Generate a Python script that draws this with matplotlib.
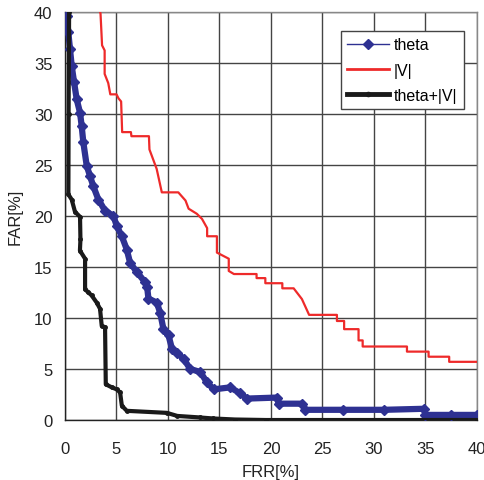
import matplotlib
matplotlib.use("Agg")
import matplotlib.pyplot as plt
from matplotlib.lines import Line2D

plt.rcParams['font.family'] = ['Liberation Sans', 'DejaVu Sans']

# |V| curve (FRR %, FAR %)
v_frr = [3.3, 3.45, 3.6, 3.85, 3.85, 4.2, 4.4, 5.0, 5.2, 5.45, 5.55, 6.4, 6.45, 8.15,
         8.2, 8.9, 9.4, 11.0, 11.7, 12.0, 12.8, 13.3, 13.8, 13.8, 14.75, 14.75, 15.9,
         15.9, 16.4, 18.6, 18.6, 19.45, 19.45, 21.1, 21.1, 22.2, 23.0, 23.7, 26.4,
         26.4, 27.1, 27.1, 28.5, 28.5, 28.9, 28.9, 33.2, 33.2, 35.3, 35.3, 37.3,
         37.3, 40.0]
v_far = [40.5, 39.8, 36.7, 36.2, 33.9, 33.0, 31.9, 31.9, 31.5, 31.2, 28.2, 28.2, 27.8,
         27.8, 26.5, 24.6, 22.3, 22.3, 21.5, 20.7, 20.2, 19.7, 18.8, 18.0, 18.0, 16.4,
         15.8, 14.6, 14.3, 14.3, 13.9, 13.9, 13.4, 13.4, 12.9, 12.9, 11.85, 10.3,
         10.3, 9.7, 9.7, 8.9, 8.9, 7.8, 7.8, 7.2, 7.2, 6.7, 6.7, 6.2, 6.2, 5.7, 5.7]

# theta curve
t_frr = [0.0, 0.17, 0.32, 0.49, 0.65, 0.88, 1.14, 1.46, 1.62, 1.78, 2.11, 2.43, 2.75,
         3.24, 3.89, 4.70, 5.03, 5.52, 6.00, 6.32, 6.97, 7.78, 7.98, 8.10, 8.92, 9.24,
         9.56, 10.05, 10.38, 10.87, 11.51, 12.16, 13.13, 13.78, 14.43, 16.05, 17.02,
         17.67, 20.59, 20.75, 23.0, 23.35, 27.0, 31.0, 34.85, 35.0, 37.5, 40.0]
t_far = [40.0, 39.6, 38.0, 36.3, 34.7, 33.1, 31.4, 30.1, 28.8, 27.2, 24.9, 23.9, 22.9,
         21.6, 20.5, 20.0, 19.0, 18.0, 16.7, 15.4, 14.5, 13.5, 13.0, 11.9, 11.5, 10.5,
         8.9, 8.3, 7.0, 6.6, 6.0, 5.0, 4.7, 3.7, 3.0, 3.2, 2.6, 2.1, 2.2, 1.6, 1.6,
         1.0, 1.0, 1.0, 1.1, 0.5, 0.5, 0.5]

# theta+|V| curve
c_frr = [0.4, 0.35, 0.33, 0.65, 0.97, 1.46, 1.5, 1.45, 1.95, 1.95, 2.27, 2.59, 3.08,
         3.40, 3.57, 3.89, 3.96, 4.54, 5.03, 5.35, 5.52, 6.0, 9.89, 10.9, 13.1, 14.4,
         16.5, 19.5, 40.0]
c_far = [40.0, 30.0, 22.1, 21.6, 20.4, 19.9, 17.7, 16.6, 15.8, 12.8, 12.5, 12.2, 11.5,
         10.9, 9.2, 9.1, 3.5, 3.2, 3.0, 2.7, 1.4, 0.9, 0.7, 0.4, 0.25, 0.15, 0.05,
         0.0, 0.0]

labels = ["theta", "|V|", "theta+|V|"]
ticks = [0, 5, 10, 15, 20, 25, 30, 35, 40]

BLUE = "#2e3192"
RED = "#ee2a2a"
BLACK = "#1a1a1a"

fig = plt.figure(figsize=(4.85, 4.81), dpi=100)
ax = fig.add_axes([0.134, 0.1247, 0.8495, 0.849])

ax.set_xlim(0, 40)
ax.set_ylim(0, 40)
ax.set_xticks(ticks)
ax.set_yticks(ticks)
ax.grid(True, color="#444444", linewidth=1.0)
ax.set_axisbelow(True)
for s in ["top", "right"]:
    ax.spines[s].set_color("#888888")
for s in ["left", "bottom"]:
    ax.spines[s].set_color("#222222")
for s in ax.spines.values():
    s.set_linewidth(1.0)
ax.tick_params(length=0, labelsize=12, labelcolor="#222222")
ax.tick_params(axis="x", pad=15)
ax.tick_params(axis="y", pad=9)

ax.plot(v_frr, v_far, color=RED, lw=1.6, zorder=3)
ax.plot(t_frr, t_far, color=BLUE, lw=4.5, zorder=4, solid_joinstyle="round")
ax.plot(t_frr, t_far, color=BLUE, lw=0, marker="D", ms=5.5, zorder=4)
ax.plot(c_frr, c_far, color=BLACK, lw=3, marker="o", ms=2.5, zorder=5)

ax.set_xlabel("FRR[%]", fontsize=12, labelpad=6, color="#222222")
ax.set_ylabel("FAR[%]", fontsize=12, labelpad=8, color="#222222")

handles = [
    Line2D([], [], color=BLUE, lw=1, marker="D", ms=5),
    Line2D([], [], color=RED, lw=2),
    Line2D([], [], color=BLACK, lw=3.5, marker="o", ms=3),
]
leg = ax.legend(handles, labels, loc="upper left", bbox_to_anchor=(0.67, 0.953),
                fontsize=11.5, frameon=True, fancybox=False, handlelength=2.6,
                handletextpad=0.3, borderpad=0.4, labelspacing=0.65, borderaxespad=0)
leg.get_frame().set_edgecolor("#444444")
leg.get_frame().set_linewidth(1.0)
leg.get_frame().set_alpha(1)

fig.savefig("out.png", dpi=100)
